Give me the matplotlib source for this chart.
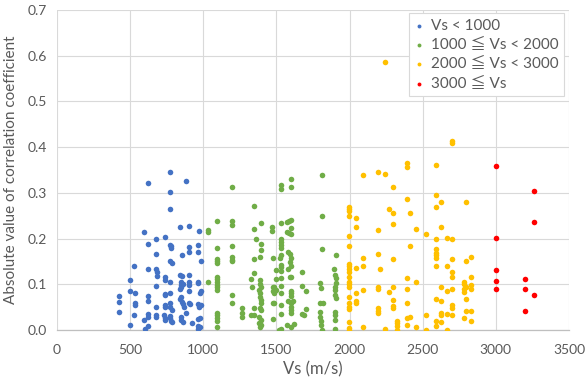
import matplotlib
matplotlib.use("Agg")
import matplotlib.pyplot as plt
from matplotlib.ticker import FormatStrFormatter

# ---- data (Vs in m/s, |correlation coefficient|) ----
blue_points = [
    (773,0.345),(625,0.322),(885,0.327),(773,0.301),(773,0.265),(844,0.225),(905,0.228),(594,0.214),
    (973,0.216),(675,0.200),(735,0.204),(625,0.188),(770,0.185),(776,0.183),(780,0.180),(905,0.182),
    (963,0.185),(905,0.170),(963,0.170),(675,0.166),(855,0.163),(770,0.152),(785,0.146),(987,0.150),
    (525,0.140),(625,0.133),(675,0.134),(685,0.127),(685,0.118),(735,0.116),(735,0.109),(842,0.120),
    (855,0.118),(905,0.120),(496,0.110),(773,0.104),(850,0.106),(850,0.098),(850,0.093),(858,0.101),
    (905,0.106),(905,0.098),(962,0.103),(675,0.097),(987,0.085),(975,0.080),(425,0.074),(496,0.085),
    (534,0.082),(625,0.074),(625,0.064),(735,0.077),(735,0.079),(775,0.080),(842,0.089),(850,0.073),
    (855,0.062),(862,0.057),(870,0.051),(905,0.085),(905,0.060),(912,0.056),(842,0.067),(425,0.061),
    (530,0.058),(530,0.054),(675,0.050),(735,0.055),(740,0.050),(770,0.058),(775,0.050),(785,0.043),
    (963,0.056),(970,0.051),(985,0.054),(425,0.039),(525,0.033),(625,0.035),(625,0.028),(625,0.009),
    (675,0.033),(680,0.028),(730,0.033),(735,0.026),(735,0.021),(770,0.030),(775,0.026),(780,0.020),
    (785,0.017),(845,0.029),(850,0.021),(860,0.017),(885,0.037),(925,0.015),(963,0.025),(963,0.008),
    (963,0.003),(496,0.010),(594,0.022),(600,0.003),(964,0.104),(975,0.026),(975,0.007),
]
green_points = [
    (1035,0.219),(1035,0.214),(1094,0.239),(1094,0.179),(1094,0.156),(1094,0.152),(1094,0.146),
    (1035,0.106),(1094,0.117),(1094,0.111),(1094,0.105),(1094,0.099),(1094,0.093),(1094,0.088),
    (1094,0.038),(1094,0.032),(1094,0.026),(1094,0.020),(1094,0.007),(1194,0.312),(1194,0.239),
    (1194,0.229),(1194,0.184),(1194,0.159),(1194,0.153),(1194,0.150),(1194,0.076),(1194,0.060),
    (1267,0.048),(1267,0.038),(1267,0.028),(1344,0.272),(1344,0.222),(1394,0.235),(1358,0.198),
    (1394,0.188),(1394,0.175),(1344,0.156),(1385,0.159),(1344,0.124),(1326,0.112),(1385,0.109),
    (1385,0.101),(1394,0.093),(1335,0.095),(1378,0.088),(1385,0.081),(1385,0.073),(1394,0.066),
    (1394,0.058),(1344,0.049),(1385,0.049),(1394,0.044),(1326,0.032),(1344,0.032),(1378,0.029),
    (1394,0.022),(1394,0.012),(1378,0.015),(1385,0.007),(1471,0.225),(1471,0.217),(1499,0.131),
    (1499,0.112),(1480,0.095),(1499,0.088),(1530,0.317),(1530,0.309),(1598,0.331),(1598,0.312),
    (1530,0.233),(1570,0.236),(1585,0.239),(1598,0.241),(1598,0.223),(1570,0.214),(1585,0.212),
    (1598,0.209),(1530,0.200),(1530,0.193),(1530,0.186),(1530,0.179),(1476,0.158),(1525,0.158),
    (1530,0.163),(1580,0.171),(1590,0.166),(1598,0.158),(1590,0.149),(1530,0.143),(1530,0.137),
    (1530,0.130),(1530,0.114),(1598,0.140),(1580,0.134),(1590,0.117),(1600,0.117),(1476,0.095),
    (1476,0.086),(1485,0.080),(1530,0.096),(1530,0.080),(1598,0.086),(1598,0.080),(1598,0.074),
    (1476,0.060),(1485,0.060),(1530,0.055),(1580,0.063),(1600,0.060),(1615,0.063),(1598,0.051),
    (1598,0.044),(1598,0.037),(1530,0.036),(1476,0.023),(1520,0.000),(1530,0.003),(1570,0.012),
    (1598,0.007),(1622,0.013),(1676,0.127),(1676,0.097),(1700,0.085),(1676,0.035),(1700,0.045),
    (1690,0.032),(1812,0.340),(1812,0.250),(1812,0.178),(1800,0.102),(1805,0.092),(1800,0.058),
    (1815,0.058),(1800,0.039),(1800,0.029),(1805,0.019),(1805,0.010),(1810,0.000),(1904,0.163),
    (1895,0.134),(1900,0.121),(1904,0.114),(1904,0.102),(1900,0.095),(1900,0.088),(1900,0.076),
    (1904,0.070),(1900,0.040),(1900,0.032),(1900,0.022),(1900,0.003),
]
yellow_points = [
    (1996,0.270),(1996,0.265),(1996,0.261),(1996,0.250),(1996,0.206),(1996,0.184),(1996,0.144),
    (1996,0.139),(1996,0.133),(1996,0.127),(1996,0.117),(1996,0.104),(1996,0.100),(1996,0.095),
    (1996,0.073),(1996,0.060),(1996,0.051),(1996,0.045),(1996,0.018),(1996,0.004),(1996,0.000),
    (2045,0.244),(2045,0.226),(2045,0.136),(2045,0.080),(2045,0.063),(2045,0.060),
    (2095,0.340),(2095,0.158),(2095,0.139),(2095,0.088),(2095,0.006),
    (2195,0.346),(2195,0.219),(2195,0.166),(2195,0.095),(2195,0.089),(2195,0.048),(2195,0.042),
    (2195,0.038),(2210,0.134),(2245,0.341),(2245,0.003),(2245,0.587),(2270,0.265),(2270,0.083),
    (2295,0.312),(2295,0.257),(2295,0.232),(2295,0.155),(2295,0.093),(2295,0.066),(2295,0.053),
    (2295,0.048),(2327,0.020),(2327,0.015),(2327,0.009),(2327,0.000),
    (2395,0.366),(2395,0.356),(2395,0.287),(2395,0.114),(2395,0.089),(2395,0.060),(2395,0.026),
    (2395,0.012),(2413,0.257),(2413,0.184),(2413,0.029),(2456,0.222),(2456,0.106),(2456,0.007),
    (2524,0.210),(2524,0.032),(2524,0.000),
    (2593,0.362),(2593,0.295),(2593,0.268),(2593,0.198),(2593,0.178),(2593,0.169),(2593,0.164),
    (2593,0.158),(2593,0.139),(2593,0.067),(2593,0.020),(2593,0.009),
    (2625,0.280),(2625,0.225),(2625,0.095),(2625,0.064),(2625,0.038),(2625,0.032),(2625,0.018),
    (2665,0.201),(2665,0.141),(2665,0.086),(2665,0.035),(2665,0.001),
    (2697,0.413),(2697,0.409),(2697,0.200),(2697,0.155),(2697,0.127),(2697,0.117),(2697,0.090),
    (2697,0.054),(2697,0.048),(2697,0.033),
    (2793,0.279),(2793,0.150),(2780,0.106),(2780,0.100),(2793,0.095),(2785,0.089),(2785,0.083),
    (2793,0.068),(2793,0.041),(2785,0.026),
    (2827,0.159),(2827,0.117),(2827,0.098),(2827,0.089),(2827,0.041),(2827,0.019),
]
red_points = [
    (3000,0.358),(3000,0.202),(3000,0.131),(3000,0.107),(3000,0.089),
    (3200,0.111),(3200,0.090),(3200,0.042),
    (3260,0.303),(3260,0.236),(3260,0.076),
]

series_labels = ["Vs < 1000", "1000 \u2266 Vs < 2000", "2000 \u2266 Vs < 3000", "3000 \u2266 Vs"]
series_points = [blue_points, green_points, yellow_points, red_points]
series_colors = ["#4472C4", "#70AD47", "#FFC000", "#FF0000"]

x_ticks = [0, 500, 1000, 1500, 2000, 2500, 3000, 3500]
y_ticks = [0.0, 0.1, 0.2, 0.3, 0.4, 0.5, 0.6, 0.7]
x_label = "Vs (m/s)"
y_label = "Absolute value of correlation coefficient"

# ---- plot ----
plt.rcParams['font.family'] = ['Lato', 'Noto Sans CJK JP', 'DejaVu Sans']
text_color = "#595959"

fig = plt.figure(figsize=(5.86, 3.83), dpi=100)
ax = fig.add_axes([57/586, 1 - 330/383, 512/586, 320/383])

for pts, lab, col in zip(series_points, series_labels, series_colors):
    xs = [p[0] for p in pts]
    ys = [p[1] for p in pts]
    ax.scatter(xs, ys, s=16, color=col, label=lab, linewidths=0, zorder=3)

ax.set_xlim(0, 3500)
ax.set_ylim(0, 0.7)
ax.set_xticks(x_ticks)
ax.set_yticks(y_ticks)
ax.yaxis.set_major_formatter(FormatStrFormatter('%.1f'))
ax.grid(True, color="#d9d9d9", linewidth=0.8, zorder=0)
ax.set_axisbelow(True)
for side in ["top", "right", "left"]:
    ax.spines[side].set_visible(False)
ax.spines["bottom"].set_color("#bfbfbf")
ax.spines["bottom"].set_linewidth(0.9)
ax.tick_params(axis='both', length=0, labelsize=10, labelcolor=text_color)
ax.tick_params(axis='x', pad=10)
ax.tick_params(axis='y', pad=7)
ax.set_xlabel(x_label, fontsize=12, color=text_color, labelpad=4)
ax.set_ylabel(y_label, fontsize=11, color=text_color, labelpad=7)

leg = ax.legend(loc="upper right", bbox_to_anchor=(0.99, 0.99), borderaxespad=0,
                frameon=True, fancybox=False, edgecolor="#d9d9d9", framealpha=1,
                fontsize=11, handlelength=0.6, handletextpad=0.5, markerscale=0.7,
                labelspacing=0.35, borderpad=0.35)
for t in leg.get_texts():
    t.set_color(text_color)
leg.get_frame().set_linewidth(0.8)

fig.savefig("out.png", dpi=100)
